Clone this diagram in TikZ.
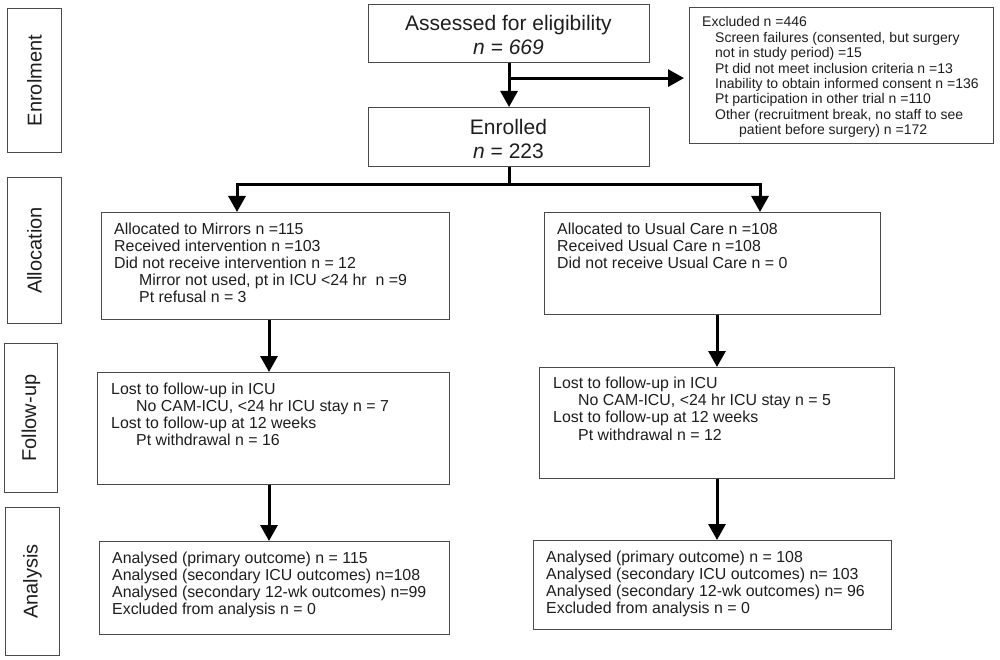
\documentclass[tikz,border=0pt]{standalone}
\usepackage{fontspec}
\setmainfont{Liberation Sans}
\usetikzlibrary{arrows.meta,calc}
\definecolor{boxgray}{HTML}{4A4A4A}
\definecolor{txtcol}{HTML}{1E1E1E}
\newcommand\myind{\hspace*{25pt}}
\begin{document}
\begin{tikzpicture}[x=1pt,y=-1pt,
  frame/.style={draw=boxgray,line width=1.1pt,inner sep=0pt,anchor=north west},
  txt/.style={inner sep=0pt,anchor=north west,align=left,text=txtcol,font=\fontsize{15.9}{17.1}\selectfont},
  smalltxt/.style={inner sep=0pt,anchor=north west,align=left,text=txtcol,font=\fontsize{14}{15.4}\selectfont},
  bigtxt/.style={inner sep=0pt,align=center,text=txtcol,font=\fontsize{21}{23.5}\selectfont},
  sidetxt/.style={inner sep=0pt,rotate=90,text=txtcol,font=\fontsize{20}{24}\selectfont},
  flow/.style={line width=3pt,-{Triangle[width=17pt,length=16pt]}},
  trunk/.style={line width=3pt}]
\fill[white] (0,0) rectangle (1000,660);
\useasboundingbox (0,0) rectangle (1000,660);

% side labels
\node[frame,minimum width=54pt,minimum height=144pt] (labEnrol) at (7,8) {};
\node[frame,minimum width=54pt,minimum height=146pt] (labAlloc) at (7,177) {};
\node[frame,minimum width=53pt,minimum height=149pt] (labFollow) at (4,343) {};
\node[frame,minimum width=54pt,minimum height=148pt] (labAnal) at (5,507) {};
\node[sidetxt] (tEnrol) at (labEnrol.center) {Enrolment};
\node[sidetxt] (tAlloc) at (labAlloc.center) {Allocation};
\node[sidetxt] (tFollow) at (labFollow.center) {Follow-up};
\node[sidetxt] (tAnal) at (labAnal.center) {Analysis};

% enrolment
\node[frame,minimum width=281pt,minimum height=58pt] (assessed) at (368,4) {};
\node[bigtxt] (tAssessed) at (508.5,35) {Assessed for eligibility\\\textit{n = 669}};
\node[frame,minimum width=281pt,minimum height=59pt] (enrolled) at (368,107) {};
\node[bigtxt] (tEnrolled) at (508.5,139) {Enrolled\\\textit{n} = 223};
\node[frame,minimum width=304pt,minimum height=136pt] (excluded) at (689,7) {};
\node[smalltxt] (tExcluded) at (702,16.5) {Excluded n =446\\
\hspace*{13pt}Screen failures (consented, but surgery\\
\hspace*{13pt}not in study period) =15\\
\hspace*{13pt}Pt did not meet inclusion criteria n =13\\
\hspace*{13pt}Inability to obtain informed consent n =136\\
\hspace*{13pt}Pt participation in other trial n =110\\
\hspace*{13pt}Other (recruitment break, no staff to see\\
\hspace*{37pt}patient before surgery) n =172};

% allocation
\node[frame,minimum width=348pt,minimum height=107pt] (mirrors) at (101,212) {};
\node[txt] (tMirrors) at (114,222.5) {Allocated to Mirrors n =115\\
Received intervention n =103\\
Did not receive intervention n = 12\\
\myind Mirror not used, pt in ICU <24 hr \ n =9\\
\myind Pt refusal n = 3};
\node[frame,minimum width=336pt,minimum height=102pt] (usual) at (544,212) {};
\node[txt] (tUsual) at (557,222.5) {Allocated to Usual Care n =108\\
Received Usual Care n =108\\
Did not receive Usual Care n = 0};

% follow-up
\node[frame,minimum width=352pt,minimum height=112pt] (fupL) at (97,372) {};
\node[txt] (tFupL) at (111,382.5) {Lost to follow-up in ICU\\
\myind No CAM-ICU, <24 hr ICU stay n = 7\\
Lost to follow-up at 12 weeks\\
\myind Pt withdrawal n = 16};
\node[frame,minimum width=355pt,minimum height=111pt] (fupR) at (539,367) {};
\node[txt] (tFupR) at (553,377) {Lost to follow-up in ICU\\
\myind No CAM-ICU, <24 hr ICU stay n = 5\\
Lost to follow-up at 12 weeks\\
\myind Pt withdrawal n = 12};

% analysis
\node[frame,minimum width=350pt,minimum height=93pt] (anaL) at (99,541) {};
\node[txt] (tAnaL) at (112,551.5) {Analysed (primary outcome) n = 115\\
Analysed (secondary ICU outcomes) n=108\\
Analysed (secondary 12-wk outcomes) n=99\\
Excluded from analysis n = 0};
\node[frame,minimum width=358pt,minimum height=89pt] (anaR) at (533,540) {};
\node[txt] (tAnaR) at (546,550.5) {Analysed (primary outcome) n = 108\\
Analysed (secondary ICU outcomes) n= 103\\
Analysed (secondary 12-wk outcomes) n= 96\\
Excluded from analysis n = 0};

% connectors
\coordinate (branch) at ($(assessed.south)+(0,15)$);
\coordinate (split) at ($(enrolled.south)+(0,17)$);
\coordinate (mtop) at ($(mirrors.north west)+(136,0)$);
\coordinate (utop) at ($(usual.north west)+(216,0)$);
\draw[flow] (assessed.south) -- (enrolled.north);
\draw[flow,shorten >=5pt] (branch) -- (branch -| excluded.west);
\draw[trunk] (enrolled.south) -- (split);
\draw[flow] (split) -| (mtop);
\draw[flow] (split) -| (utop);
\draw[flow] ($(mirrors.south west)+(168,0)$) -- ($(fupL.north west)+(172,0)$);
\draw[flow] ($(usual.south west)+(173,0)$) -- ($(fupR.north west)+(178,0)$);
\draw[flow] ($(fupL.south west)+(172,0)$) -- ($(anaL.north west)+(170,0)$);
\draw[flow] ($(fupR.south west)+(178,0)$) -- ($(anaR.north west)+(184,0)$);
\end{tikzpicture}
\end{document}
